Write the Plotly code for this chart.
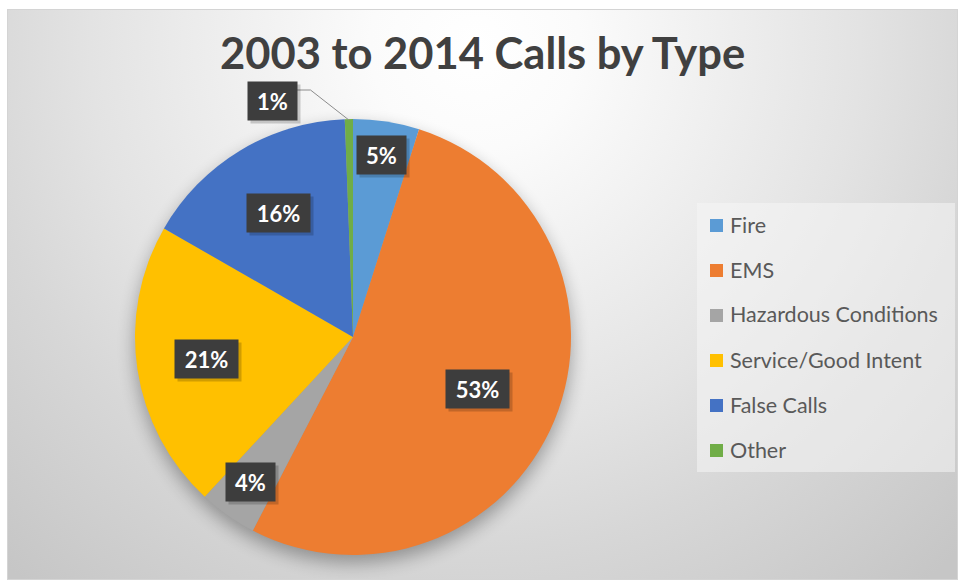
import base64
import math
import plotly.graph_objects as go

# ---- data -------------------------------------------------------------
categories = ["Fire", "EMS", "Hazardous Conditions", "Service/Good Intent",
              "False Calls", "Other"]
shares = [4.9, 52.7, 4.3, 21.4, 16.1, 0.6]          # percent of all calls
colors = ["#5B9BD5", "#ED7D31", "#A5A5A5", "#FFC000", "#4472C4", "#70AD47"]
title_text = "2003 to 2014 Calls by Type"

# ---- geometry / style -------------------------------------------------
W, H = 958, 580
PIE_CX, PIE_CY, PIE_R = 353, 337, 218             # pie centre and radius (px)
LABEL_RADIUS = [0.845, 0.62, 0.815, 0.68, 0.665, None]   # None -> outside label
OUTSIDE_LABEL = (272, 101)                         # centre of the outside label box
FONT = "Lato, 'Open Sans', 'DejaVu Sans', sans-serif"


def px(x):
    return x / W


def py(y):
    return 1 - y / H


# ---- background: radial gradient + soft pie shadow ---------------------
bx0, by0 = 7, 9
bw, bh = W - bx0, H - by0
svg = f"""<svg xmlns="http://www.w3.org/2000/svg" width="{bw}" height="{bh}" viewBox="0 0 {bw} {bh}">
<defs>
<radialGradient id="g" gradientUnits="userSpaceOnUse" cx="{475 - bx0}" cy="{45 - by0}" r="700">
<stop offset="0" stop-color="#ffffff"/>
<stop offset="0.15" stop-color="#fbfbfb"/>
<stop offset="0.55" stop-color="#e3e3e3"/>
<stop offset="0.72" stop-color="#d7d7d7"/>
<stop offset="1" stop-color="#c6c6c6"/>
</radialGradient>
<filter id="s" x="-30%" y="-30%" width="160%" height="160%">
<feGaussianBlur stdDeviation="9"/>
</filter>
</defs>
<rect x="0" y="0" width="{bw}" height="{bh}" fill="url(#g)"/>
<circle cx="{PIE_CX - bx0}" cy="{PIE_CY + 8 - by0}" r="{PIE_R}" fill="#000" opacity="0.32" filter="url(#s)"/>
<rect x="0.5" y="0.5" width="{bw - 1}" height="{bh - 1}" fill="none" stroke="#d4d4d4" stroke-width="1"/>
</svg>"""
bg_uri = "data:image/svg+xml;base64," + base64.b64encode(svg.encode()).decode()

# ---- pie ----------------------------------------------------------------
fig = go.Figure(go.Pie(
    labels=categories,
    values=shares,
    sort=False,
    direction="clockwise",
    rotation=0,
    marker=dict(colors=colors, line=dict(width=0)),
    textinfo="none",
    hoverinfo="label+percent",
    showlegend=False,
    domain=dict(x=[px(PIE_CX - PIE_R), px(PIE_CX + PIE_R)],
                y=[py(PIE_CY + PIE_R), py(PIE_CY - PIE_R)]),
))

annotations = []
shapes = []

# data labels: dark boxes with white percentages
total = sum(shares)
cum = 0.0
for name, v, rf in zip(categories, shares, LABEL_RADIUS):
    mid = (cum + v / 2) / total * 2 * math.pi
    cum += v
    txt = f"{int(v + 0.5)}%"
    bw_lab = 63 if len(txt) > 2 else 49
    if rf is not None:
        lx = PIE_CX + rf * PIE_R * math.sin(mid)
        ly = PIE_CY - rf * PIE_R * math.cos(mid)
    else:
        lx, ly = OUTSIDE_LABEL
        # leader line from the slice edge to the label box
        ex = PIE_CX + PIE_R * math.sin(mid)
        ey = PIE_CY - PIE_R * math.cos(mid) + 1
        rx = lx + bw_lab / 2
        ty = ly - 11
        shapes.append(dict(
            type="path", xref="paper", yref="paper",
            path=f"M {px(rx)} {py(ty)} L {px(rx + 14)} {py(ty)} L {px(ex)} {py(ey)}",
            line=dict(color="#8c8c8c", width=1), layer="above"))
    # soft drop shadow behind the box
    annotations.append(dict(
        x=px(lx + 3), y=py(ly + 3), xref="paper", yref="paper",
        text="", showarrow=False, width=bw_lab, height=38, borderpad=0,
        bgcolor="rgba(0,0,0,0.18)", xanchor="center", yanchor="middle"))
    annotations.append(dict(
        x=px(lx), y=py(ly), xref="paper", yref="paper",
        text=f"<b>{txt}</b>", showarrow=False, width=bw_lab, height=38,
        borderpad=0, bgcolor="#3d3d3d", align="center",
        font=dict(family=FONT, size=22, color="#ffffff"),
        xanchor="center", yanchor="middle"))

# title
annotations.append(dict(
    x=px(483), y=py(52), xref="paper", yref="paper",
    text=f"<b>{title_text}</b>", showarrow=False,
    font=dict(family=FONT, size=43.5, color="#404040"),
    xanchor="center", yanchor="middle"))

# legend panel
shapes.append(dict(type="rect", xref="paper", yref="paper",
                   x0=px(697), x1=px(955), y0=py(472), y1=py(203),
                   fillcolor="rgba(245,245,245,0.55)", line=dict(width=0),
                   layer="below"))
LEG_X, LEG_Y0, LEG_STEP, SQ = 710, 225.5, 45, 13
for i, (name, col) in enumerate(zip(categories, colors)):
    cy = LEG_Y0 + i * LEG_STEP
    shapes.append(dict(type="rect", xref="paper", yref="paper",
                       x0=px(LEG_X), x1=px(LEG_X + SQ),
                       y0=py(cy + SQ / 2), y1=py(cy - SQ / 2),
                       fillcolor=col, line=dict(width=0)))
    annotations.append(dict(
        x=px(LEG_X + SQ + 5), y=py(cy - 1), xref="paper", yref="paper",
        text=name, showarrow=False, xanchor="left", yanchor="middle",
        font=dict(family=FONT, size=21.5, color="#595959")))

fig.update_layout(
    width=W, height=H,
    margin=dict(l=0, r=0, t=0, b=0),
    paper_bgcolor="#ffffff",
    plot_bgcolor="#ffffff",
    images=[dict(source=bg_uri, xref="paper", yref="paper",
                 x=px(bx0), y=py(by0), sizex=bw / W, sizey=bh / H,
                 xanchor="left", yanchor="top", sizing="stretch",
                 layer="below")],
    shapes=shapes,
    annotations=annotations,
)

fig.write_html("out.html")
